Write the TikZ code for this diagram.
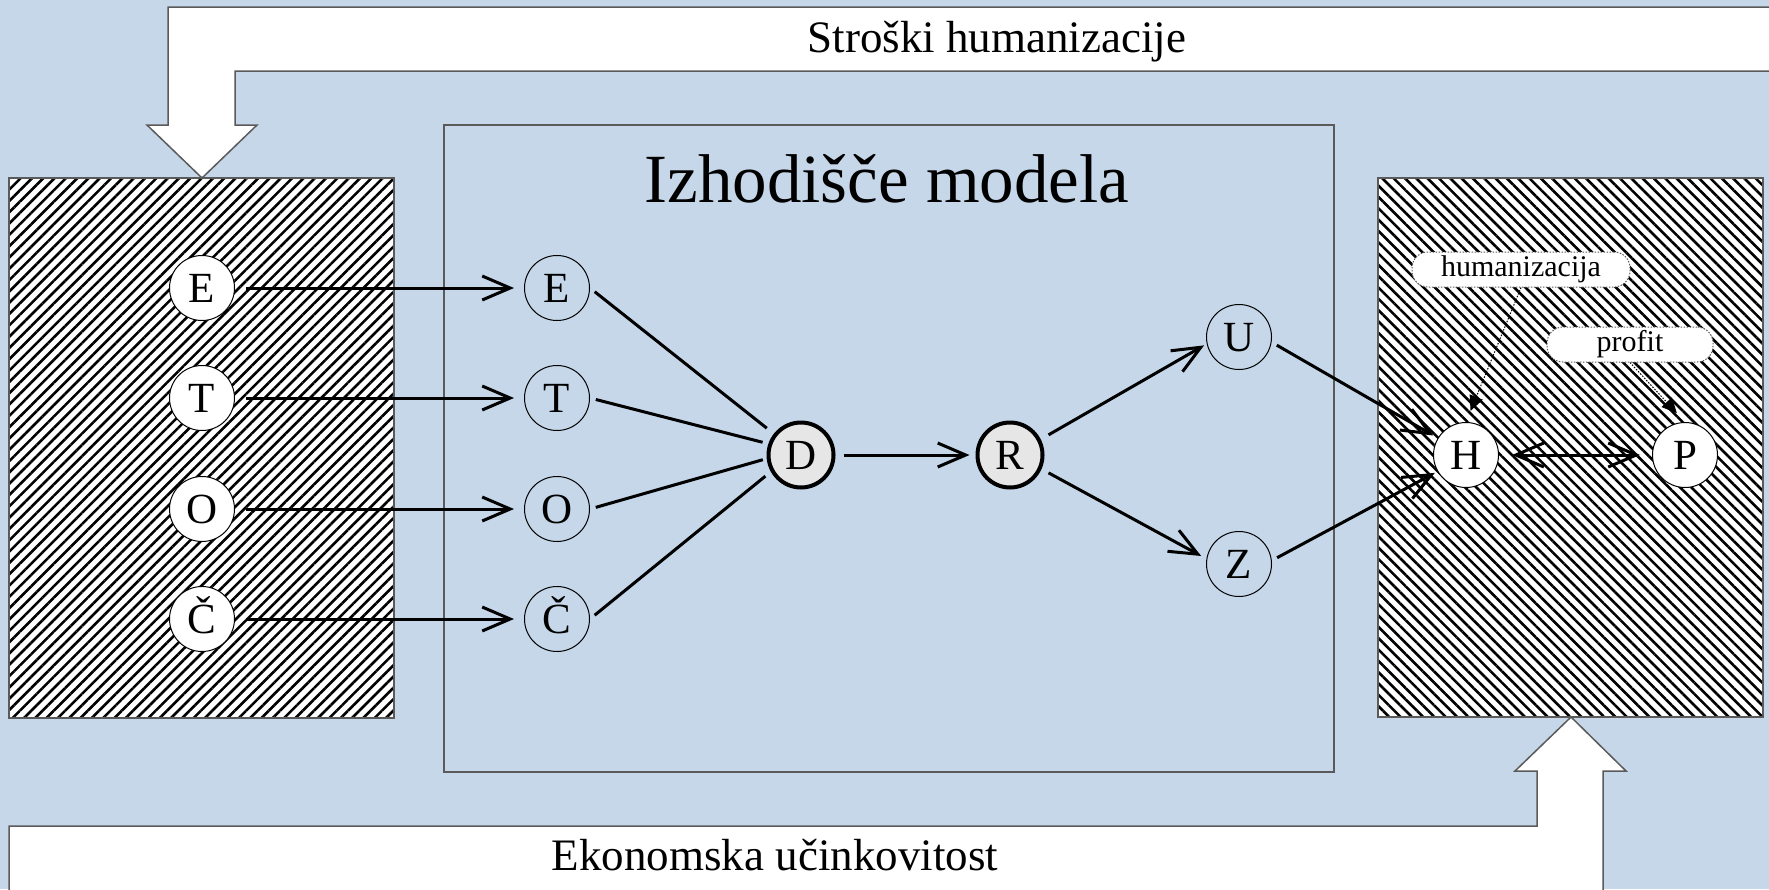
\documentclass[tikz,border=0pt]{standalone}
\usepackage{fontspec}
\setmainfont{Liberation Serif}
\usetikzlibrary{arrows.meta,patterns.meta}
\definecolor{bgblue}{RGB}{197,215,232}
\definecolor{edgegray}{RGB}{90,90,90}
\definecolor{lgray}{RGB}{230,230,230}
\begin{document}
\begin{tikzpicture}[x=1pt,y=-1pt,
  band/.style={fill=white,draw=edgegray,line width=1.5pt,line join=miter},
  frame/.style={draw=edgegray,line width=1.5pt},
  hatchNE/.style={frame,preaction={fill=white},pattern={Lines[angle=45,distance=8pt,line width=2.6pt]}},
  hatchNW/.style={frame,preaction={fill=white},pattern={Lines[angle=-45,distance=8pt,line width=2.6pt]}},
  circ/.style={circle,draw=black,line width=1pt,minimum size=65pt,inner sep=0pt,
    text height=29pt,text depth=0pt,font=\fontsize{43}{43}\selectfont},
  wcirc/.style={circ,fill=white},
  bcirc/.style={circ,fill=lgray,line width=4pt,minimum size=65pt},
  conn/.style={line width=3pt},
  arr/.style={line width=3pt,-{Straight Barb[length=28pt,width=24pt]}},
  arrb/.style={line width=3pt,{Straight Barb[length=28pt,width=24pt]}-{Straight Barb[length=28pt,width=24pt]}},
  lab/.style={draw=edgegray,dash pattern=on 1.5pt off 1.5pt,line width=1pt,fill=white,rounded corners=16pt,
    inner sep=0pt,minimum height=35pt,font=\fontsize{30}{30}\selectfont},
  darr/.style={draw=black,line width=1pt,dash pattern=on 1.5pt off 1.5pt,-{Triangle[length=15pt,width=14pt]}},
  bigtext/.style={anchor=base,font=\fontsize{45}{54}\selectfont}
]
\useasboundingbox (0,0) rectangle (1769,889);
\clip (0,0) rectangle (1769,889);
\fill[bgblue] (0,0) rectangle (1769,889);

% top bent arrow
\draw[band] (1790,7) -- (168,7) -- (168,125) -- (147,125) -- (202,178) -- (257,125) -- (235,125) -- (235,71) -- (1790,71);
% bottom bent arrow
\draw[band] (9,900) -- (9,826) -- (1537,826) -- (1537,771) -- (1515,771) -- (1571,717) -- (1626,771) -- (1603,771) -- (1603,900);

\node[bigtext] (tcost) at (997,52) {Stroški humanizacije};
\node[bigtext] (teff) at (775,870) {Ekonomska učinkovitost};

% boxes
\draw[hatchNE] (9,178) rectangle (394,718);
\draw[hatchNW] (1378,178) rectangle (1763,717);
\draw[frame] (444,125) rectangle (1334,772);
\node[anchor=base,font=\fontsize{69}{80}\selectfont] (title) at (887,202) {Izhodišče modela};

% left column
\node[wcirc] (lE) at (202,288) {E};
\node[wcirc] (lT) at (202,398) {T};
\node[wcirc] (lO) at (202,509) {O};
\node[wcirc] (lC) at (202,619) {Č};
% center column
\node[circ] (cE) at (557,288) {E};
\node[circ] (cT) at (557,398) {T};
\node[circ] (cO) at (557,509) {O};
\node[circ] (cC) at (557,619) {Č};

\node[bcirc] (D) at (801,455) {D};
\node[bcirc] (R) at (1010,455) {R};
\node[circ] (U) at (1239,337) {U};
\node[circ] (Z) at (1239,564) {Z};
\node[wcirc] (H) at (1466,455) {H};
\node[wcirc] (P) at (1685,455) {P};

\node[lab,minimum width=218pt] (hum) at (1521,269.5) {humanizacija};
\node[lab,minimum width=166pt] (prof) at (1630,344.5) {profit};

% connectors
\draw[arr,shorten <=11pt,shorten >=10pt] (lE) -- (cE);
\draw[arr,shorten <=11pt,shorten >=10pt] (lT) -- (cT);
\draw[arr,shorten <=11pt,shorten >=10pt] (lO) -- (cO);
\draw[arr,shorten <=11pt,shorten >=10pt] (lC) -- (cC);

\draw[conn,shorten <=6pt,shorten >=9pt] (cE.east) -- (D.142);
\draw[conn,shorten <=6pt,shorten >=6pt] (cT.east) -- (D.161);
\draw[conn,shorten <=6pt,shorten >=4pt] (cO.east) -- (D.186);
\draw[conn,shorten <=6pt,shorten >=7pt] (cC.east) -- (D.209);

\draw[arr,shorten <=8pt,shorten >=6pt] (D) -- (R);
\draw[arr,shorten <=9pt,shorten >=3pt] (R.27) -- (U.192);
\draw[arr,shorten <=8pt,shorten >=6pt] (R.-24) -- (Z.171);
\draw[arr,shorten <=6pt,shorten >=5pt] (U.-9) -- (H.149);
\draw[arr,shorten <=6pt,shorten >=3pt] (Z.6) -- (H.210);
\draw[arrb,shorten <=13pt,shorten >=12pt] (H) -- (P);

\draw[darr,shorten >=12pt] (hum.south) -- (H.north);
\draw[darr,shorten >=12pt] (prof.south) -- (P.north);
\end{tikzpicture}
\end{document}
